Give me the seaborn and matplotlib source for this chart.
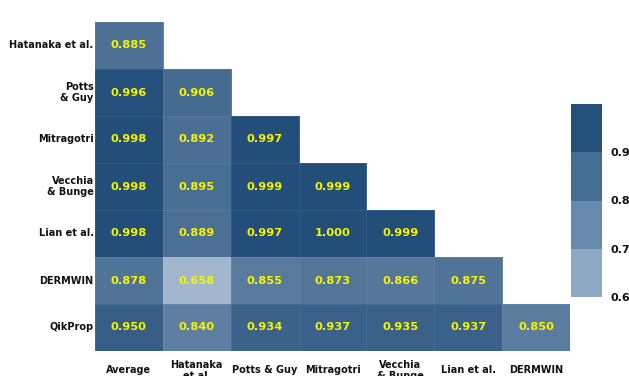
import numpy as np
import pandas as pd
import matplotlib
matplotlib.use("Agg")
import matplotlib.pyplot as plt
import seaborn as sns
from matplotlib.colors import LinearSegmentedColormap, ListedColormap, BoundaryNorm
import matplotlib as mpl

row_labels = ["Hatanaka et al.", "Potts\n& Guy", "Mitragotri", "Vecchia\n& Bunge",
              "Lian et al.", "DERMWIN", "QikProp"]
col_labels = ["Average", "Hatanaka\net al.", "Potts & Guy", "Mitragotri",
              "Vecchia\n& Bunge", "Lian et al.", "DERMWIN"]

hatanaka = [0.885]
potts = [0.996, 0.906]
mitragotri = [0.998, 0.892, 0.997]
vecchia = [0.998, 0.895, 0.999, 0.999]
lian = [0.998, 0.889, 0.997, 1.000, 0.999]
dermwin = [0.878, 0.658, 0.855, 0.873, 0.866, 0.875]
qikprop = [0.950, 0.840, 0.934, 0.937, 0.935, 0.937, 0.850]

cbar_ticks = [0.6, 0.7, 0.8, 0.9]
cbar_bounds = [0.6, 0.7, 0.8, 0.9, 1.0]

rows = [hatanaka, potts, mitragotri, vecchia, lian, dermwin, qikprop]
n = len(col_labels)
mat = np.full((len(rows), n), np.nan)
for i, r in enumerate(rows):
    mat[i, :len(r)] = r
df = pd.DataFrame(mat, index=row_labels, columns=col_labels)
mask = np.isnan(mat)

sns.set_theme(style="white")
plt.rcParams['font.family'] = ['DejaVu Sans']

cmap = LinearSegmentedColormap.from_list("bl", ["#b8c9dc", "#224e79"])

fig = plt.figure(figsize=(6.29, 3.76), dpi=100)
W, H = 629, 376
ax = fig.add_axes([95 / W, (H - 351) / H, 475 / W, 329 / H])
cax = fig.add_axes([571 / W, (H - 297) / H, 31 / W, 193 / H])

sns.heatmap(df, mask=mask, cmap=cmap, vmin=0.6, vmax=1.0, annot=True, fmt=".3f",
            annot_kws={"color": "#f5f500", "fontweight": "bold", "fontsize": 8.2},
            cbar=False, linewidths=0.5, linecolor=(1, 1, 1, 0.07), ax=ax)

ax.tick_params(axis="both", length=0, colors="#111111")
ax.tick_params(axis="y", pad=1)
ax.tick_params(axis="x", pad=14)
for t in ax.get_yticklabels():
    t.set_rotation(0)
    t.set_fontweight("bold")
    t.set_fontsize(7)
    t.set_color("#111111")
    t.set_horizontalalignment("right")
    t.set_multialignment("right")
    t.set_linespacing(1.05)
for t in ax.get_xticklabels():
    t.set_rotation(0)
    t.set_fontweight("bold")
    t.set_fontsize(7)
    t.set_color("#111111")
    t.set_verticalalignment("center")
    t.set_multialignment("center")
    t.set_linespacing(1.05)
ax.set_xlabel("")
ax.set_ylabel("")

cb_colors = ["#8fa9c4", "#6789ab", "#456d94", "#234f7a"]
cb_cmap = ListedColormap(cb_colors)
norm = BoundaryNorm(cbar_bounds, cb_cmap.N)
cb = fig.colorbar(mpl.cm.ScalarMappable(norm=norm, cmap=cb_cmap), cax=cax,
                  ticks=cbar_ticks)
cb.outline.set_visible(False)
cb.ax.minorticks_off()
cb.ax.tick_params(which="both", length=0, width=0, pad=6, colors="#111111")
cb.ax.set_yticklabels([f"{v:.1f}" for v in cbar_ticks], fontweight="bold", fontsize=8)

fig.savefig("out.png", dpi=100)
